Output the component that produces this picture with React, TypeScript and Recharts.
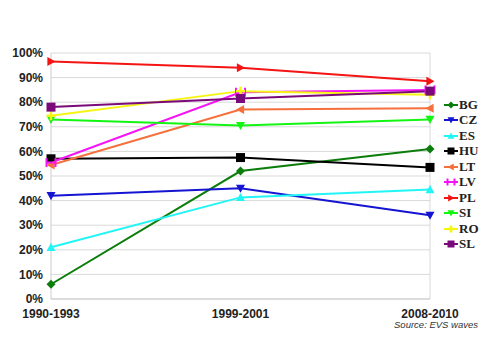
import { LineChart, Line, XAxis, YAxis, CartesianGrid, ReferenceLine } from 'recharts';

// waves on the x axis
const waves = ['1990-1993', '1999-2001', '2008-2010'];

// one value per wave, in %
const BG = [6, 52, 61];
const CZ = [42, 45, 34];
const ES = [21, 41.3, 44.5];
const HU = [57, 57.5, 53.5];
const LT = [54.5, 77, 77.5];
const LV = [55.5, 84, 85];
const PL = [96.5, 94, 88.5];
const SI = [73, 70.5, 73];
const RO = [74.5, 84.5, 83];
const SL = [78, 81.5, 84.5];

const yTicks = [0, 10, 20, 30, 40, 50, 60, 70, 80, 90, 100];

type Shape = 'diamond' | 'down' | 'up' | 'square' | 'left' | 'star' | 'right' | 'plus';

const seriesDefs: { key: string; values: number[]; color: string; shape: Shape }[] = [
    { key: 'BG', values: BG, color: '#0a7d0a', shape: 'diamond' },
    { key: 'CZ', values: CZ, color: '#1414d2', shape: 'down' },
    { key: 'ES', values: ES, color: '#22f5f5', shape: 'up' },
    { key: 'HU', values: HU, color: '#000000', shape: 'square' },
    { key: 'LT', values: LT, color: '#f5703c', shape: 'left' },
    { key: 'LV', values: LV, color: '#f514f5', shape: 'star' },
    { key: 'PL', values: PL, color: '#f51414', shape: 'right' },
    { key: 'SI', values: SI, color: '#14f514', shape: 'down' },
    { key: 'RO', values: RO, color: '#f5f514', shape: 'plus' },
    { key: 'SL', values: SL, color: '#7a0a7a', shape: 'square' },
];

const chartData = waves.map((w, i) => {
    const row: any = { wave: w };
    seriesDefs.forEach((s) => { row[s.key] = s.values[i]; });
    return row;
});

// draws a marker shape centred on cx, cy
const Marker = ({ cx, cy, shape, color, r = 4.5 }: { cx: number; cy: number; shape: Shape; color: string; r?: number }) => {
    if (cx == null || cy == null) return null;
    switch (shape) {
        case 'diamond':
            return <polygon points={`${cx},${cy - r} ${cx + r},${cy} ${cx},${cy + r} ${cx - r},${cy}`} fill={color} />;
        case 'down':
            return <polygon points={`${cx - r},${cy - r * 0.8} ${cx + r},${cy - r * 0.8} ${cx},${cy + r}`} fill={color} />;
        case 'up':
            return <polygon points={`${cx - r},${cy + r * 0.8} ${cx + r},${cy + r * 0.8} ${cx},${cy - r}`} fill={color} />;
        case 'left':
            return <polygon points={`${cx + r * 0.8},${cy - r} ${cx + r * 0.8},${cy + r} ${cx - r},${cy}`} fill={color} />;
        case 'right':
            return <polygon points={`${cx - r * 0.8},${cy - r} ${cx - r * 0.8},${cy + r} ${cx + r},${cy}`} fill={color} />;
        case 'square':
            return <rect x={cx - r} y={cy - r} width={r * 2} height={r * 2} fill={color} />;
        case 'star':
            return (
                <g stroke={color} strokeWidth={2}>
                    <line x1={cx - r} y1={cy - r} x2={cx - r} y2={cy + r} />
                    <line x1={cx + r} y1={cy - r} x2={cx + r} y2={cy + r} />
                    <line x1={cx - r} y1={cy} x2={cx + r} y2={cy} />
                </g>
            );
        case 'plus':
        default:
            return (
                <g stroke={color} strokeWidth={2.5}>
                    <line x1={cx - r} y1={cy} x2={cx + r} y2={cy} />
                    <line x1={cx} y1={cy - r} x2={cx} y2={cy + r} />
                </g>
            );
    }
};

// legend sits outside the plot, to the right
const LegendBox = () => (
    <div
        style={{
            position: 'absolute',
            left: 444,
            top: 97,
            fontFamily: '"Liberation Serif", "Times New Roman", serif',
            fontWeight: 'bold',
            fontSize: 13,
        }}
    >
        {seriesDefs.map((s) => (
            <div key={s.key} style={{ display: 'flex', alignItems: 'center', height: 15.5, color: '#222' }}>
                <svg width={14} height={10}>
                    <line x1={0} y1={5} x2={14} y2={5} stroke={s.color} strokeWidth={2} />
                    <Marker cx={7} cy={5} shape={s.shape} color={s.color} r={3.5} />
                </svg>
                <span style={{ marginLeft: 1 }}>{s.key}</span>
            </div>
        ))}
    </div>
);

const tickStyle = { fill: '#222', fontSize: 12, fontWeight: 'bold' as const, fontFamily: '"Liberation Sans", Arial, sans-serif' };

export default function App() {
    return (
        <div style={{ position: 'absolute', left: 0, top: 0, width: 500, height: 354, background: '#fff' }}>
            <LineChart width={500} height={354} data={chartData} margin={{ top: 53, right: 70, left: 6, bottom: 25 }}>
                <CartesianGrid stroke="#d9d9d9" vertical={false} />
                <XAxis
                    dataKey="wave"
                    tick={tickStyle}
                    axisLine={{ stroke: '#cccccc' }}
                    tickLine={false}
                    height={30}
                    tickMargin={4}
                    interval={0}
                />
                <YAxis
                    domain={[0, 100]}
                    ticks={yTicks}
                    tick={tickStyle}
                    tickFormatter={(v: number) => `${v}%`}
                    axisLine={{ stroke: '#cccccc' }}
                    tickLine={false}
                    width={45}
                    tickMargin={2}
                />
                <ReferenceLine x="2008-2010" stroke="#d9d9d9" />
                {seriesDefs.map((s) => (
                    <Line
                        key={s.key}
                        type="linear"
                        dataKey={s.key}
                        stroke={s.color}
                        strokeWidth={2}
                        isAnimationActive={false}
                        dot={(props: any) => (
                            <Marker key={`${s.key}-${props.index}`} cx={props.cx} cy={props.cy} shape={s.shape} color={s.color} />
                        )}
                        activeDot={false}
                    />
                ))}
            </LineChart>
            <LegendBox />
            <div
                style={{
                    position: 'absolute',
                    right: 22,
                    top: 319,
                    fontFamily: '"Liberation Sans", Arial, sans-serif',
                    fontStyle: 'italic',
                    fontSize: 9.5,
                    color: '#333',
                }}
            >
                Source: EVS waves
            </div>
        </div>
    );
}
